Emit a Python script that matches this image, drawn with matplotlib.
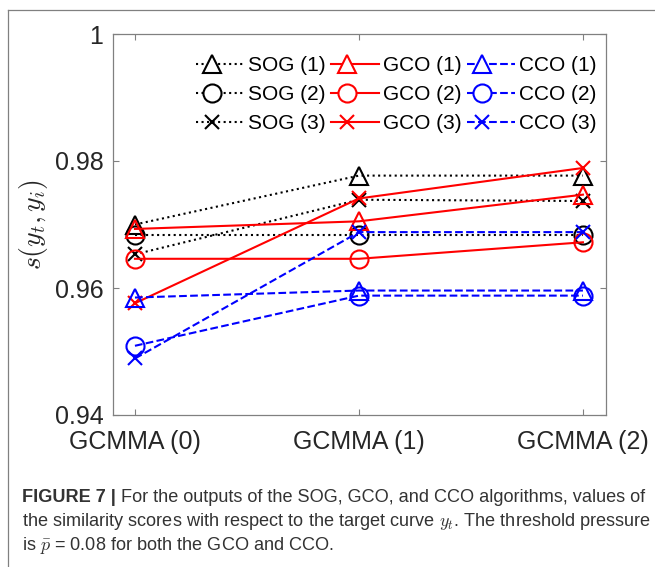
import numpy as np
import matplotlib.pyplot as plt
from matplotlib.lines import Line2D
from matplotlib.ticker import FuncFormatter
from matplotlib.legend_handler import HandlerLine2D

plt.rcParams['font.family'] = ['Liberation Sans', 'DejaVu Sans']
plt.rcParams['mathtext.fontset'] = 'cm'

# data
steps = ['GCMMA (0)', 'GCMMA (1)', 'GCMMA (2)']
sog1 = [0.9700, 0.9777, 0.9777]
sog2 = [0.9684, 0.9684, 0.9684]
sog3 = [0.9653, 0.9739, 0.9737]
gco1 = [0.9693, 0.9705, 0.9747]
gco2 = [0.9646, 0.9646, 0.9672]
gco3 = [0.9576, 0.9741, 0.9789]
cco1 = [0.9585, 0.9596, 0.9596]
cco2 = [0.9509, 0.9588, 0.9588]
cco3 = [0.9489, 0.9688, 0.9688]
yticks = [0.94, 0.96, 0.98, 1.0]


# legend handle: line across the box, marker left of centre (MATLAB look)
class LeftMarker(HandlerLine2D):
    def create_artists(self, legend, orig_handle, xdescent, ydescent,
                       width, height, fontsize, trans):
        x0, x1 = -xdescent, -xdescent + width
        y = (height - ydescent) / 2
        line = Line2D([x0, x1], [y, y])
        self.update_prop(line, orig_handle, legend)
        line.set_marker('None')
        mk = Line2D([x0 + 0.32 * width], [y])
        self.update_prop(mk, orig_handle, legend)
        mk.set_linestyle('None')
        mk.set_markerfacecolor('white')
        line.set_transform(trans)
        mk.set_transform(trans)
        return [line, mk]


W, H = 655, 567
fig = plt.figure(figsize=(W / 100, H / 100), dpi=100)
ax = fig.add_axes([113/W, 1 - 415/H, (606-113)/W, (415-34)/H])

x = np.arange(len(steps))
series = [
    (sog1, 'k', ':', '^', 'SOG (1)'),
    (sog2, 'k', ':', 'o', 'SOG (2)'),
    (sog3, 'k', ':', 'x', 'SOG (3)'),
    (gco1, 'r', '-', '^', 'GCO (1)'),
    (gco2, 'r', '-', 'o', 'GCO (2)'),
    (gco3, 'r', '-', 'x', 'GCO (3)'),
    (cco1, 'b', '--', '^', 'CCO (1)'),
    (cco2, 'b', '--', 'o', 'CCO (2)'),
    (cco3, 'b', '--', 'x', 'CCO (3)'),
]
handles = []
for vals, c, ls, mk, lab in series:
    ms = 10 if mk == 'x' else 13
    h, = ax.plot(x, vals, color=c, linestyle=ls, marker=mk, ms=ms, mfc='none',
                 mew=1.5, lw=1.5, label=lab)
    handles.append(h)

ax.set_xlim(-0.098, 2.103)
ax.set_ylim(0.94, 1.0)
ax.set_xticks(x)
ax.set_xticklabels(steps)
ax.set_yticks(yticks)
ax.yaxis.set_major_formatter(FuncFormatter(lambda v, p: '%g' % v))
ax.tick_params(direction='in', top=True, right=True, length=4, color='#808080',
               labelsize=18, labelcolor='#262626')
ax.tick_params(axis='x', pad=11)
ax.tick_params(axis='y', pad=7)
for s in ax.spines.values():
    s.set_color('#808080')
    s.set_linewidth(0.9)

ax.set_ylabel(r'$s(y_t,y_i)$', fontsize=20, color='#262626')
ax.yaxis.set_label_coords(-0.128, 0.5)

ax.legend(handles=handles, ncol=3, loc='upper right', frameon=False, fontsize=15,
          handlelength=2.3, handletextpad=0.2, columnspacing=0.25, labelspacing=0.47,
          borderaxespad=0.0, borderpad=0.3, bbox_to_anchor=(1 - 3/493, 1 - 16/381),
          handler_map={Line2D: LeftMarker()})

# frame lines of the figure panel
fig.add_artist(Line2D([8/W, 1], [1 - 10/H, 1 - 10/H], color='#808080', lw=0.9))
fig.add_artist(Line2D([8/W, 8/W], [0, 1 - 10/H], color='#808080', lw=0.9))

# caption, sized so the second line fills the width like the reference
cap_col = '#333333'
line1b = 'FIGURE 7 |'
line1 = 'For the outputs of the SOG, GCO, and CCO algorithms, values of'
line2 = r'the similarity scores with respect to the target curve $\mathit{y_t}$. The threshold pressure'
line3 = r'is $\bar{p}$ = 0.08 for both the GCO and CCO.'

renderer = fig.canvas.get_renderer()
probe = fig.text(0, 0, line2, fontsize=10)
w10 = probe.get_window_extent(renderer).width
probe.remove()
fs = 10 * (650 - 22) / w10

x0 = 22 / W
tb = fig.text(x0, 1 - 498/H, line1b, fontsize=fs, fontweight='bold', color=cap_col, va='center')
bw = tb.get_window_extent(renderer).width
fig.text(x0 + (bw + 5) / W, 1 - 498/H, line1, fontsize=fs, color=cap_col, va='center')
fig.text(x0, 1 - 522/H, line2, fontsize=fs, color=cap_col, va='center')
fig.text(x0, 1 - 546/H, line3, fontsize=fs, color=cap_col, va='center')

fig.savefig('out.png', dpi=100)
